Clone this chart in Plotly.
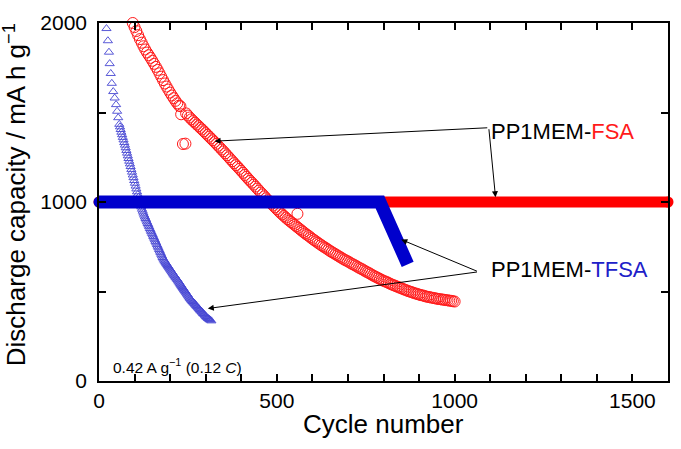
import plotly.graph_objects as go

# ---- data ----
fsa_cycles = [95, 100, 105, 110, 115, 120, 125, 130, 135, 140, 145, 150, 155, 160, 165, 170,
              175, 180, 185, 190, 195, 200, 205, 210, 215, 220, 225,
              245, 250, 255, 260, 265, 270, 275, 280, 285, 290, 295, 300, 305, 310, 315, 320,
              325, 330, 335, 340, 345, 350, 355, 360, 365, 370, 375, 380, 385, 390, 395, 400,
              405, 410, 415, 420, 425, 430, 435, 440, 445, 450, 455, 460, 465, 470, 475, 480,
              485, 490, 495, 500, 505, 510, 515, 520, 525, 530, 535, 540, 545, 550, 555, 560,
              565, 570, 575, 580, 585, 590, 595, 600, 605, 610, 615, 620, 625, 630, 635, 640,
              645, 650, 655, 660, 665, 670, 675, 680, 685, 690, 695, 700, 705, 710, 715, 720,
              725, 730, 735, 740, 745, 750, 755, 760, 765, 770, 775, 780, 785, 790, 795, 800,
              805, 810, 815, 820, 825, 830, 835, 840, 845, 850, 855, 860, 865, 870, 875, 880,
              885, 890, 895, 900, 905, 910, 915, 920, 925, 930, 935, 940, 945, 950, 955, 960,
              965, 970, 975, 980, 985, 990, 995, 1000]
fsa_capacity = [2000, 1977, 1955, 1932, 1910, 1890, 1870, 1852, 1835, 1820, 1805, 1789, 1772, 1755, 1738, 1719,
                1700, 1681, 1662, 1645, 1628, 1611, 1595, 1580, 1565, 1551, 1538,
                1495, 1483, 1472, 1462, 1452, 1443, 1433, 1424, 1414, 1405, 1395, 1385, 1375, 1365, 1355, 1345,
                1335, 1325, 1314, 1304, 1293, 1283, 1272, 1261, 1250, 1239, 1228, 1217, 1206, 1196, 1185, 1174,
                1163, 1151, 1140, 1129, 1118, 1108, 1097, 1086, 1075, 1064, 1053, 1043, 1032, 1021, 1010, 1000,
                990, 980, 970, 960, 950, 940, 931, 922, 913, 904, 896, 888, 880, 872, 864, 856,
                848, 840, 832, 824, 817, 810, 802, 794, 787, 780, 773, 766, 759, 752, 746, 740,
                733, 726, 720, 714, 708, 702, 696, 690, 684, 678, 673, 668, 662, 656, 651, 646,
                640, 634, 629, 624, 618, 612, 607, 602, 596, 590, 585, 580, 575, 570, 565, 560,
                556, 552, 547, 542, 538, 534, 530, 526, 522, 518, 514, 510, 506, 502, 499, 496,
                492, 489, 486, 483, 480, 478, 475, 472, 470, 468, 466, 464, 462, 460, 458, 457,
                455, 454, 452, 451, 449, 448, 446, 444]
fsa_outlier_cycles = [229, 231, 236, 243, 558]
fsa_outlier_capacity = [1535, 1490, 1324, 1326, 934]

tfsa_cycles = [21, 25, 28, 30, 33, 36, 40, 44, 48, 51, 54, 57, 59, 61, 63, 65, 67, 69, 71, 73,
               75, 77, 79, 81, 83, 85, 87, 89, 91, 93, 95, 97, 99, 101, 103, 105, 107, 109,
               111, 113, 115, 117, 119, 121, 123, 125, 127, 129, 131, 133, 135, 137, 139, 141,
               143, 145, 147, 149, 151, 153, 155, 157, 159, 161, 163, 165, 167, 169, 171, 173,
               175, 177, 179, 181, 183, 185, 187, 189, 191, 193, 195, 197, 199, 201, 203, 205,
               207, 209, 211, 213, 215, 217, 219, 221, 223, 225, 227, 229, 231, 233, 235, 237,
               239, 241, 243, 245, 247, 249, 251, 253, 255, 257, 259, 261, 263, 265, 267, 269,
               271, 273, 275, 277, 279, 281, 283, 285, 287, 289, 291, 293, 295, 297, 299, 301,
               303, 305, 307, 309, 311, 313, 316]
tfsa_capacity = [1969, 1901, 1837, 1773, 1718, 1663, 1617, 1581, 1544, 1507, 1471, 1434, 1420, 1405, 1390, 1376, 1361, 1347, 1332, 1318,
                 1303, 1288, 1273, 1258, 1243, 1228, 1213, 1198, 1182, 1167, 1151, 1136, 1120, 1105, 1089, 1073, 1057, 1042,
                 1027, 1012, 998, 985, 972, 960, 949, 938, 927, 917, 908, 899, 889, 880, 871, 862,
                 852, 843, 834, 825, 816, 807, 798, 789, 780, 771, 762, 753, 744, 735, 726, 717,
                 708, 699, 690, 682, 675, 669, 663, 657, 651, 645, 639, 633, 627, 621, 615, 609,
                 603, 597, 591, 586, 580, 575, 569, 564, 558, 552, 546, 540, 534, 528, 522, 516,
                 510, 505, 499, 493, 487, 481, 475, 469, 463, 458, 453, 449, 444, 440, 435, 431,
                 426, 422, 417, 413, 408, 404, 399, 395, 390, 386, 381, 377, 373, 369, 364, 360,
                 356, 352, 349, 346, 343, 340, 336]

# capacity-limited cycling (limited at 1000 mA h g-1)
fsa_limit_cycles = [0, 1600]
fsa_limit_capacity = [1000, 1000]
tfsa_limit_cycles = [0, 790, 868]
tfsa_limit_capacity = [1000, 1000, 652]

RED = "#ff1a1a"
BLUE = "#0000cc"
TRI = "#4646d2"
FONT = "Liberation Sans, Arial, sans-serif"

fig = go.Figure()

fig.add_trace(go.Scatter(x=fsa_cycles, y=fsa_capacity, mode="markers", cliponaxis=False,
                         marker=dict(symbol="circle-open", size=11, color=RED, line=dict(width=1)),
                         showlegend=False))
fig.add_trace(go.Scatter(x=fsa_outlier_cycles, y=fsa_outlier_capacity, mode="markers",
                         marker=dict(symbol="circle-open", size=11, color=RED, line=dict(width=1)),
                         showlegend=False))
fig.add_trace(go.Scatter(x=tfsa_cycles, y=tfsa_capacity, mode="markers", cliponaxis=False,
                         marker=dict(symbol="triangle-up-open", size=8, color=TRI, line=dict(width=0.9)),
                         showlegend=False))
fig.add_trace(go.Scatter(x=fsa_limit_cycles, y=fsa_limit_capacity, mode="lines+markers",
                         line=dict(color="#ff0000", width=11),
                         marker=dict(size=11, color="#ff0000"), cliponaxis=False,
                         showlegend=False))
fig.add_trace(go.Scatter(x=tfsa_limit_cycles, y=tfsa_limit_capacity, mode="lines",
                         line=dict(color=BLUE, width=13),
                         showlegend=False))
fig.add_trace(go.Scatter(x=tfsa_limit_cycles[:1], y=tfsa_limit_capacity[:1], mode="markers",
                         marker=dict(size=11, color=BLUE), cliponaxis=False,
                         showlegend=False))

axis_common = dict(showgrid=False, zeroline=False, showline=True, linecolor="black",
                   linewidth=1.5, mirror="ticks", ticks="inside", ticklen=7, tickwidth=1.5,
                   tickcolor="black", tickfont=dict(family=FONT, size=21, color="black"))

fig.update_xaxes(range=[0, 1600], tickvals=[0, 500, 1000, 1500],
                 minor=dict(dtick=100, ticks="inside", ticklen=7, tickwidth=1.5, tickcolor="black",
                            tick0=0),
                 **axis_common)
fig.update_yaxes(range=[0, 2000], tickvals=[0, 1000, 2000],
                 minor=dict(dtick=500, ticks="inside", ticklen=7, tickwidth=1.5, tickcolor="black",
                            tick0=0),
                 ticklabelstandoff=6,
                 **axis_common)

ann = []
# axis titles
ann.append(dict(text="Cycle number", xref="paper", yref="paper", x=0.5, y=-0.121,
                xanchor="center", yanchor="middle", showarrow=False,
                font=dict(family=FONT, size=26, color="black")))
ann.append(dict(text="Discharge capacity / mA h g<sup>\u22121</sup>", xref="paper", yref="paper",
                x=-0.147, y=0.52, xanchor="center", yanchor="middle", textangle=-90,
                showarrow=False, font=dict(family=FONT, size=26, color="black")))
ann.append(dict(text="0.42 A g<sup>\u22121</sup> (0.12 <i>C</i>)", xref="paper", yref="paper",
                x=0.021, y=0.041, xanchor="left", yanchor="middle", showarrow=False,
                font=dict(family=FONT, size=15.5, color="black")))
# labels
ann.append(dict(text="PP1MEM-<span style='color:#ff1a1a'>FSA</span>", x=1098, y=1396,
                xref="x", yref="y", xanchor="left", yanchor="middle", showarrow=False,
                font=dict(family=FONT, size=22, color="black")))
ann.append(dict(text="PP1MEM-<span style='color:#2020c8'>TFSA</span>", x=1098, y=621,
                xref="x", yref="y", xanchor="left", yanchor="middle", showarrow=False,
                font=dict(family=FONT, size=22, color="black")))
# arrows
arrows = [((1096, 1415), (325, 1340)), ((1096, 1415), (1115, 1027)),
          ((1067, 610), (850, 790)), ((1067, 610), (306, 405))]
for (tx, ty), (hx, hy) in arrows:
    ann.append(dict(text="", x=hx, y=hy, ax=tx, ay=ty, xref="x", yref="y", axref="x", ayref="y",
                    showarrow=True, arrowhead=2, arrowsize=1.2, arrowwidth=1, arrowcolor="black",
                    standoff=0, startstandoff=0))

fig.update_layout(width=681, height=449, margin=dict(l=99, r=11, t=17, b=68),
                  paper_bgcolor="white", plot_bgcolor="white", annotations=ann,
                  font=dict(family=FONT))

fig.write_html("out.html")
